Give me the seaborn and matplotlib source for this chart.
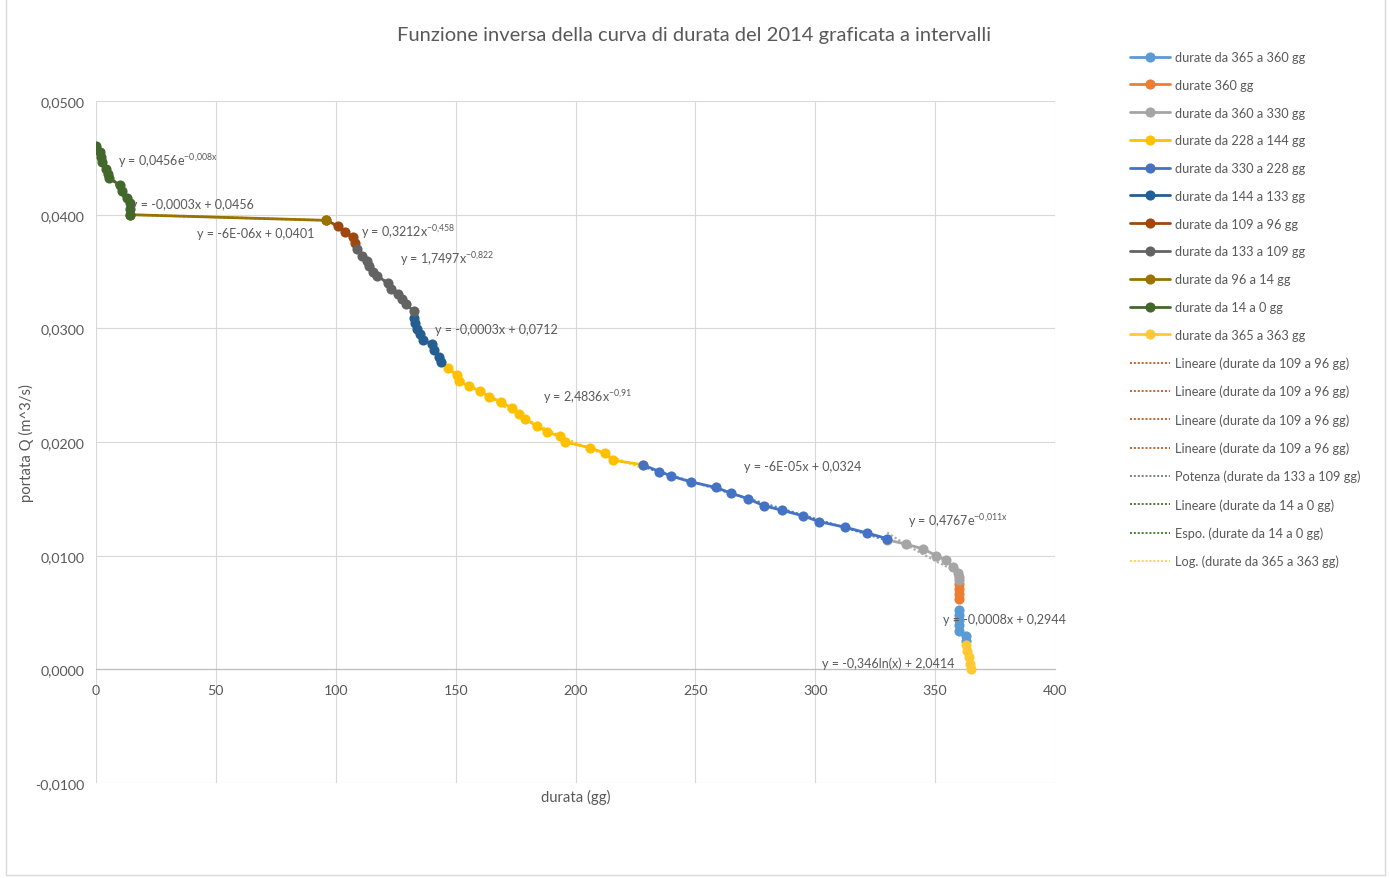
import numpy as np
import matplotlib
matplotlib.use("Agg")
import matplotlib.pyplot as plt
from matplotlib.lines import Line2D
from matplotlib.patches import Rectangle
import seaborn as sns

# ---------------------------------------------------------------
# Discharge Q (m^3/s) against duration (days), 2014, split by interval
# ---------------------------------------------------------------
x_365_360 = [360, 360, 360, 360, 360, 363, 363]
q_365_360 = [0.0052, 0.0048, 0.0043, 0.0039, 0.0034, 0.0029, 0.0025]

x_360 = [360, 360, 360, 360]
q_360 = [0.0075, 0.0071, 0.0066, 0.0062]

x_360_330 = [330, 338, 345, 350.5, 354.5, 357.5, 359.5, 360, 360]
q_360_330 = [0.0114, 0.0110, 0.0106, 0.0100, 0.0096, 0.0090, 0.0085, 0.0081, 0.0079]

x_228_144 = [147, 150.5, 151.5, 155.5, 160, 164, 169, 173.5, 176.5, 179,
             184, 188, 193.5, 195.5, 206, 212.5, 215.5, 228]
q_228_144 = [0.0265, 0.0259, 0.0254, 0.0249, 0.0245, 0.0240, 0.0235, 0.0230, 0.0225, 0.0220,
             0.0214, 0.0209, 0.0205, 0.0200, 0.0195, 0.0190, 0.0184, 0.0180]

x_330_228 = [228, 235, 240, 248, 258.5, 265, 272, 278.5, 286, 295, 301.5, 312.5, 321.5, 330]
q_330_228 = [0.0180, 0.0174, 0.0170, 0.0165, 0.0160, 0.0155, 0.0150, 0.0144, 0.0140, 0.0135,
             0.0130, 0.0125, 0.0120, 0.0115]

x_144_133 = [132.5, 133, 134, 135, 136.5, 140, 141, 143, 144]
q_144_133 = [0.0309, 0.0305, 0.0299, 0.0295, 0.0290, 0.0286, 0.0281, 0.0275, 0.0270]

x_109_96 = [96, 101, 104, 107, 108]
q_109_96 = [0.0395, 0.0390, 0.0385, 0.0380, 0.0375]

x_133_109 = [109, 111, 113, 114, 115.5, 117, 122, 123, 126, 127.5, 129.5, 132.5]
q_133_109 = [0.0370, 0.0364, 0.0359, 0.0355, 0.0350, 0.0346, 0.0340, 0.0335, 0.0330, 0.0326,
             0.0321, 0.0315]

x_96_14 = [14, 96]
q_96_14 = [0.0400, 0.0395]

x_14_0 = [0, 1.5, 2, 2.5, 4, 5, 5.5, 10, 11, 13, 14, 14, 14]
q_14_0 = [0.0460, 0.0455, 0.0451, 0.0446, 0.0440, 0.0436, 0.0432, 0.0426, 0.0421, 0.0415,
          0.0410, 0.0405, 0.0400]

x_365_363 = [363, 363.5, 364, 364.5, 365]
q_365_363 = [0.0021, 0.0016, 0.0011, 0.0005, 0.0000]

# series: (legend name, x, Q, colour, trendline kinds)
series = [
    ("durate da 365 a 360 gg", x_365_360, q_365_360, "#5B9BD5", ["lin"]),
    ("durate 360 gg", x_360, q_360, "#ED7D31", []),
    ("durate da 360 a 330 gg", x_360_330, q_360_330, "#A5A5A5", ["exp"]),
    ("durate da 228 a 144 gg", x_228_144, q_228_144, "#FFC000", ["pow"]),
    ("durate da 330 a 228 gg", x_330_228, q_330_228, "#4472C4", ["lin"]),
    ("durate da 144 a 133 gg", x_144_133, q_144_133, "#255E91", ["lin"]),
    ("durate da 109 a 96 gg", x_109_96, q_109_96, "#9E480E", ["pow"]),
    ("durate da 133 a 109 gg", x_133_109, q_133_109, "#636363", ["pow"]),
    ("durate da 96 a 14 gg", x_96_14, q_96_14, "#997300", ["lin"]),
    ("durate da 14 a 0 gg", x_14_0, q_14_0, "#43682B", ["lin", "exp"]),
    ("durate da 365 a 363 gg", x_365_363, q_365_363, "#FFC934", ["log"]),
]

# trendline equations shown on the chart: (text, anchor duration, anchor Q)
equations = [
    (r"y = 0,0456e$^{-0{,}008x}$", 9.2, 0.0448),
    (r"y = -0,0003x + 0,0456", 14.6, 0.0409),
    (r"y = -6E-06x + 0,0401", 42.1, 0.0384),
    (r"y = 0,3212x$^{-0{,}458}$", 110.4, 0.0386),
    (r"y = 1,7497x$^{-0{,}822}$", 126.8, 0.0362),
    (r"y = -0,0003x + 0,0712", 141.4, 0.0299),
    (r"y = 2,4836x$^{-0{,}91}$", 186.4, 0.0240),
    (r"y = -6E-05x + 0,0324", 270.3, 0.0179),
    (r"y = 0,4767e$^{-0{,}011x}$", 338.7, 0.0131),
    (r"y = -0,0008x + 0,2944", 353.3, 0.0044),
    (r"y = -0,346ln(x) + 2,0414", 302.8, 0.0006),
]

# trendline legend entries: (label, colour)
trend_legend = [
    ("Lineare (durate da 109 a 96 gg)", "#C0622F"),
    ("Lineare (durate da 109 a 96 gg)", "#C0622F"),
    ("Lineare (durate da 109 a 96 gg)", "#C0622F"),
    ("Lineare (durate da 109 a 96 gg)", "#C0622F"),
    ("Potenza (durate da 133 a 109 gg)", "#7A7F8A"),
    ("Lineare (durate da 14 a 0 gg)", "#4E7A31"),
    ("Espo. (durate da 14 a 0 gg)", "#4E7A31"),
    ("Log. (durate da 365 a 363 gg)", "#FFD24D"),
]


def trend(kind, x, y):
    x = np.asarray(x, float)
    y = np.asarray(y, float)
    xs = np.linspace(x.min(), x.max(), 80)
    if kind == "lin":
        a, b = np.polyfit(x, y, 1)
        return xs, a * xs + b
    if kind == "exp":
        k, c = np.polyfit(x, np.log(y), 1)
        return xs, np.exp(c + k * xs)
    if kind == "pow":
        k, c = np.polyfit(np.log(x), np.log(y), 1)
        return xs, np.exp(c) * xs ** k
    a, b = np.polyfit(np.log(x), y, 1)
    return xs, a * np.log(xs) + b


sns.set_theme(style="whitegrid")
plt.rcParams["font.family"] = ["Lato", "DejaVu Sans"]
plt.rcParams["mathtext.fontset"] = "custom"
plt.rcParams["mathtext.rm"] = "Lato"
plt.rcParams["mathtext.default"] = "rm"

TXT = "#595959"
GRID = "#D9D9D9"

fig = plt.figure(figsize=(13.89, 8.79), dpi=100)
fig.patch.set_facecolor("white")
ax = fig.add_axes([96 / 1389, 1 - 784 / 879, (1055 - 96) / 1389, (784 - 102) / 879])
ax.set_facecolor("white")

for i, (name, xs, qs, col, kinds) in enumerate(series):
    for kind in kinds:
        tx, ty = trend(kind, xs, qs)
        ax.plot(tx, ty, linestyle=(0, (1, 1)), color=col, linewidth=1.6,
                zorder=2 + i * 0.1, alpha=0.9)
    sns.lineplot(x=xs, y=qs, ax=ax, color=col, marker="o", markersize=7.3,
                 markeredgewidth=0, linewidth=2.0, estimator=None, sort=False,
                 label=name, zorder=2.05 + i * 0.1)

for text, ex, ey in equations:
    ax.text(ex, ey, text, ha="left", va="center", fontsize=9.0, color=TXT, zorder=10)

ax.set_xlim(0, 400)
ax.set_ylim(-0.01, 0.05)
ax.set_xticks(np.arange(0, 401, 50))
ax.set_yticks(np.arange(-0.01, 0.0501, 0.01))
ax.set_yticklabels([f"{v:.4f}".replace(".", ",").replace("-0,0000", "0,0000")
                    for v in np.arange(-0.01, 0.0501, 0.01)])
ax.grid(True, color=GRID, linewidth=0.8)
for s in ["top", "right", "left"]:
    ax.spines[s].set_visible(False)
ax.spines["bottom"].set_position(("data", 0))
ax.spines["bottom"].set_color("#BFBFBF")
ax.spines["bottom"].set_linewidth(0.9)
ax.tick_params(axis="both", length=0, labelsize=10.2, labelcolor=TXT)
ax.tick_params(axis="x", pad=10.5)
ax.tick_params(axis="y", pad=8.5)

ax.set_xlabel("durata (gg)", fontsize=10.7, color=TXT)
ax.set_ylabel("portata Q (m^3/s)", fontsize=10.7, color=TXT)
ax.xaxis.set_label_coords(0.5, -0.009)
ax.yaxis.set_label_coords(-0.0647, 0.5)

fig.text(694 / 1389, 1 - 35 / 879,
         "Funzione inversa della curva di durata del 2014 graficata a intervalli",
         ha="center", va="center", fontsize=14.5, color=TXT)

handles, labels = ax.get_legend_handles_labels()
ax.get_legend().remove()
for lab, col in trend_legend:
    handles.append(Line2D([], [], color=col, linestyle=(0, (1, 1)), linewidth=1.4))
    labels.append(lab)
fig.legend(handles, labels, loc="upper left",
           bbox_to_anchor=(1130 / 1389, 1 - 52 / 879), frameon=False,
           fontsize=9.2, handlelength=3.1, handletextpad=0.4, labelspacing=1.235,
           borderpad=0, borderaxespad=0, labelcolor=TXT)

fig.patches.append(Rectangle((6 / 1389, 3 / 879), (1385 - 6) / 1389, 1.0,
                             transform=fig.transFigure, fill=False,
                             edgecolor=GRID, linewidth=1.0))

fig.savefig("out.png", dpi=100, facecolor="white")
